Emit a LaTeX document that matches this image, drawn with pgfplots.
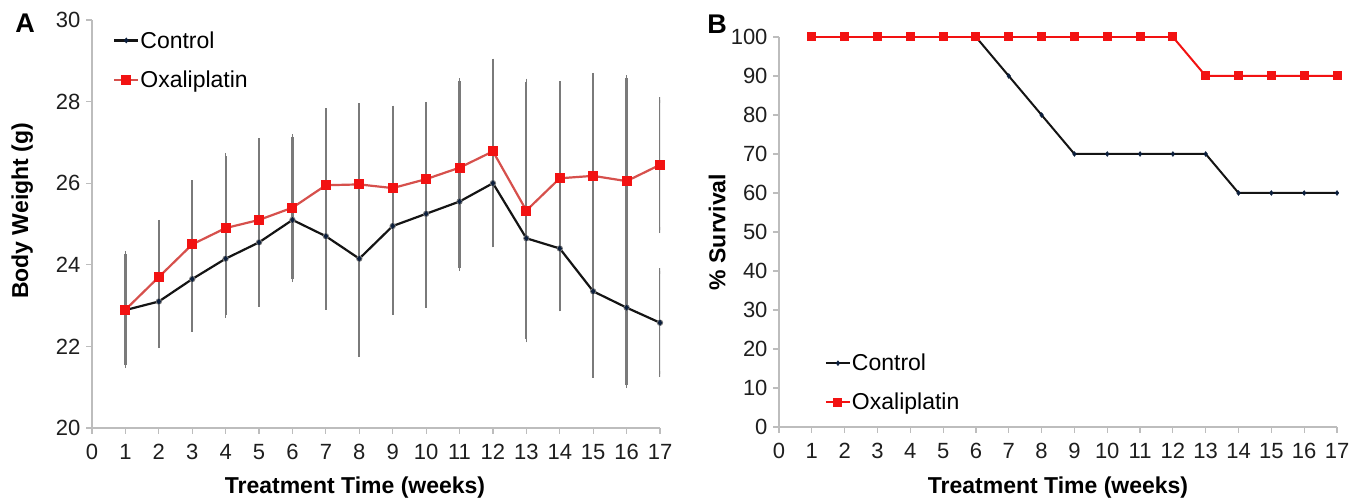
\documentclass[border=0pt]{standalone}
\usepackage{fontspec}
\setmainfont{Liberation Sans}
\usepackage{pgfplots}
\usepackage{pgfplotstable}
\pgfplotsset{compat=1.18}

\definecolor{axgray}{HTML}{BDBDBD}
\definecolor{ebgray}{HTML}{7A7A7A}
\definecolor{ctrl}{HTML}{141414}
\definecolor{ctrlmk}{HTML}{0B1E3C}
\definecolor{oxline}{HTML}{D6504C}
\definecolor{oxmk}{HTML}{F21212}
\definecolor{txt}{HTML}{1E1E1E}

% body weight (g), mean and error per week
\pgfplotstableread{
wk ctrl  cerr oxa   oerr
1  22.89 1.05 22.90 1.36
2  23.10 1.07 23.70 1.33
3  23.65 1.22 24.50 1.50
4  24.15 1.38 24.90 1.77
5  24.55 1.50 25.10 1.93
6  25.10 1.45 25.40 1.73
7  24.70 1.73 25.95 1.81
8  24.15 2.34 25.97 1.92
9  24.95 2.10 25.88 1.95
10 25.25 2.23 26.10 1.82
11 25.55 1.63 26.38 2.12
12 26.00 1.50 26.78 2.20
13 24.65 2.40 25.33 3.16
14 24.40 1.47 26.12 2.30
15 23.35 2.05 26.18 2.45
16 22.95 1.90 26.05 2.52
17 22.58 1.26 26.45 1.60
}\weight

% survival (%)
\pgfplotstableread{
wk ctrl oxa
1  100 100
2  100 100
3  100 100
4  100 100
5  100 100
6  100 100
7  90  100
8  80  100
9  70  100
10 70  100
11 70  100
12 70  100
13 70  90
14 60  90
15 60  90
16 60  90
17 60  90
}\surv

\pgfplotsset{
  panel/.style={
    scale only axis,
    axis lines*=left,
    axis line style={axgray, line width=1.2pt},
    tick style={axgray, line width=1.2pt},
    tick align=outside,
    major tick length=6pt,
    xmin=0, xmax=17, xtick={0,...,17},
    tick label style={font=\fontsize{22}{22}\selectfont, text=txt},
    xticklabel shift=7pt,
    yticklabel shift=2pt,
    /pgf/number format/assume math mode=true,
    label style={font=\bfseries\fontsize{23}{23}\selectfont, text=black},
    legend style={draw=none, fill=none, font=\fontsize{23}{23}\selectfont,
      inner sep=0pt, row sep=19pt, nodes={inner sep=1pt}},
    legend cell align=left,
    legend image code/.code={\draw[mark repeat=2, mark phase=2]
      plot coordinates {(0pt,0pt)(12pt,0pt)(24pt,0pt)};},
  },
  every error bar/.append style={draw=ebgray, line width=2.2pt},
  ebar/.style={ebgray, line width=2.2pt, mark=none, forget plot, only marks,
    error bars/.cd, y dir=both, y explicit,
    error bar style={draw=ebgray, line width=2.2pt},
    error mark options={draw=ebgray, line width=1.6pt, mark size=3pt}},
}

\begin{document}
\begin{tikzpicture}[x=1pt, y=1pt]
\path[use as bounding box] (0,0) rectangle (1371,502);

\begin{axis}[panel,
  at={(92pt,74pt)}, anchor=south west,
  width=568pt, height=408pt,
  ymin=20, ymax=30, ytick={20,22,...,30},
  xlabel={Treatment Time (weeks)},
  ylabel={Body Weight (g)},
  xlabel style={at={(axis description cs:0.463,-0.145)}, anchor=center},
  ylabel style={at={(axis description cs:-0.123,0.532)}, anchor=center},
  legend style={at={(axis description cs:0.037,0.975)}, anchor=north west},
]
  \addplot[ebar] table[x=wk, y=ctrl, y error=cerr] {\weight};
  \addplot[ebar] table[x=wk, y=oxa, y error=oerr] {\weight};
  \addplot[ctrl, line width=2.2pt, mark=diamond*,
    mark options={ctrlmk, mark size=2.6pt, line width=0.5pt}]
    table[x=wk, y=ctrl] {\weight};
  \addlegendentry{Control}
  \addplot[oxline, line width=2.2pt, mark=square*,
    mark options={oxmk, mark size=4.5pt, line width=0pt}]
    table[x=wk, y=oxa] {\weight};
  \addlegendentry{Oxaliplatin}
\end{axis}

\begin{axis}[panel,
  at={(779pt,75pt)}, anchor=south west,
  width=558pt, height=390pt,
  ymin=0, ymax=100, ytick={0,10,...,100},
  xlabel={Treatment Time (weeks)},
  ylabel={\% Survival},
  xlabel style={at={(axis description cs:0.5,-0.155)}, anchor=center},
  ylabel style={at={(axis description cs:-0.111,0.5)}, anchor=center},
  legend style={at={(axis description cs:0.082,0.19)}, anchor=north west},
]
  \addplot[ctrl, line width=2pt, mark=diamond*,
    mark options={ctrlmk, mark size=2.4pt, line width=0.5pt}]
    table[x=wk, y=ctrl] {\surv};
  \addlegendentry{Control}
  \addplot[oxmk, line width=2pt, mark=square*,
    mark options={oxmk, mark size=4pt, line width=0pt}]
    table[x=wk, y=oxa] {\surv};
  \addlegendentry{Oxaliplatin}
\end{axis}

\node[font=\bfseries\fontsize{27}{27}\selectfont] at (25,479) {A};
\node[font=\bfseries\fontsize{27}{27}\selectfont] at (717,478) {B};
\end{tikzpicture}
\end{document}
